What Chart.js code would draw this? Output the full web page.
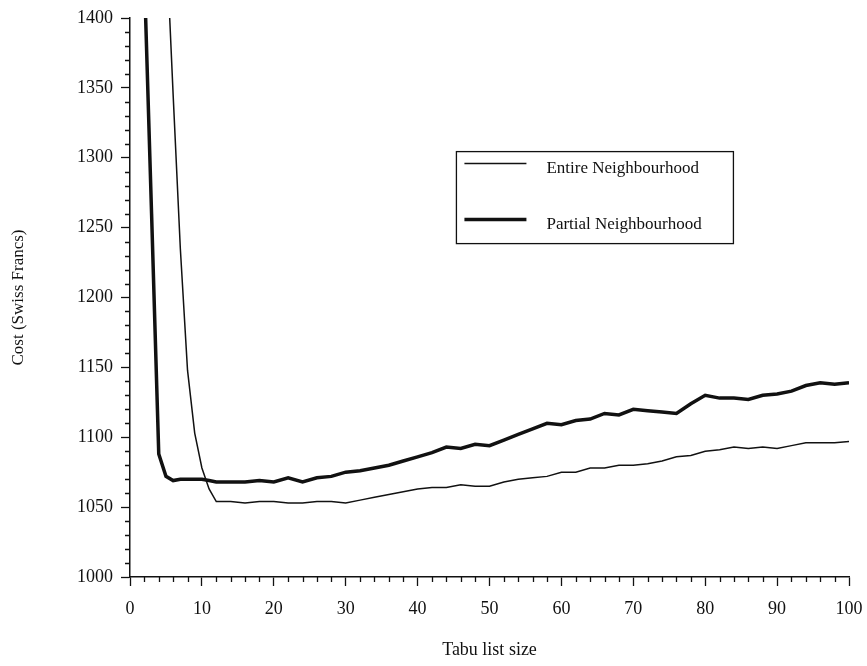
<!DOCTYPE html>
<html>
<head>
<meta charset="utf-8">
<script src="https://cdn.jsdelivr.net/npm/chart.js@4.4.1/dist/chart.umd.min.js"></script>
<style>
  html, body { margin: 0; padding: 0; background: #fff; }
  #wrap { width: 867px; height: 666px; }
</style>
</head>
<body>
<div id="wrap"><canvas id="myChart" width="867" height="666"></canvas></div>
<script>
// tabu list sizes (x) and the two cost series
const tabuSize = [2, 3, 4, 5, 6, 7, 8, 9, 10, 11, 12, 14, 16, 18, 20, 22, 24, 26, 28, 30,
  32, 34, 36, 38, 40, 42, 44, 46, 48, 50, 52, 54, 56, 58, 60, 62, 64, 66, 68, 70,
  72, 74, 76, 78, 80, 82, 84, 86, 88, 90, 92, 94, 96, 98, 100];

const entireCost = [null, null, null, 1460, 1345, 1235, 1148, 1103, 1078, 1063, 1054, 1054, 1053, 1054, 1054, 1053, 1053, 1054, 1054, 1053,
  1055, 1057, 1059, 1061, 1063, 1064, 1064, 1066, 1065, 1065, 1068, 1070, 1071, 1072, 1075, 1075, 1078, 1078, 1080, 1080,
  1081, 1083, 1086, 1087, 1090, 1091, 1093, 1092, 1093, 1092, 1094, 1096, 1096, 1096, 1097];

const partialCost = [1430, 1260, 1088, 1072, 1069, 1070, 1070, 1070, 1070, 1069, 1068, 1068, 1068, 1069, 1068, 1071, 1068, 1071, 1072, 1075,
  1076, 1078, 1080, 1083, 1086, 1089, 1093, 1092, 1095, 1094, 1098, 1102, 1106, 1110, 1109, 1112, 1113, 1117, 1116, 1120,
  1119, 1118, 1117, 1124, 1130, 1128, 1128, 1127, 1130, 1131, 1133, 1137, 1139, 1138, 1139];

const seriesNames = ['Entire Neighbourhood', 'Partial Neighbourhood'];
const xTicks = [0, 10, 20, 30, 40, 50, 60, 70, 80, 90, 100];
const yTicks = [1000, 1050, 1100, 1150, 1200, 1250, 1300, 1350, 1400];

const serif = '"Liberation Serif", "DejaVu Serif", serif';
const ink = '#111';

function toPoints(ys) {
  return tabuSize.map((x, i) => ({x: x, y: ys[i]}));
}

// small unlabeled ticks between the labelled ones
const minorTicks = {
  id: 'minorTicks',
  afterDraw(chart) {
    const ctx = chart.ctx;
    const xs = chart.scales.x, ys = chart.scales.y;
    const a = chart.chartArea;
    ctx.save();
    ctx.strokeStyle = ink;
    ctx.lineWidth = 1.3;
    ctx.beginPath();
    for (let v = 0; v <= 100; v += 2) {
      if (v % 10 === 0) continue;
      const px = Math.round(xs.getPixelForValue(v)) + 0.5;
      ctx.moveTo(px, a.bottom);
      ctx.lineTo(px, a.bottom + 5);
    }
    for (let v = 1000; v <= 1400; v += 10) {
      if (v % 50 === 0) continue;
      const py = Math.round(ys.getPixelForValue(v)) + 0.5;
      ctx.moveTo(a.left - 5, py);
      ctx.lineTo(a.left, py);
    }
    ctx.stroke();
    ctx.restore();
  }
};

// boxed legend sitting inside the plot
const boxLegend = {
  id: 'boxLegend',
  afterDraw(chart) {
    const ctx = chart.ctx;
    const a = chart.chartArea;
    const bx = a.left + (a.right - a.left) * 0.454;
    const by = a.top + (a.bottom - a.top) * 0.239;
    const bw = 277, bh = 92;
    ctx.save();
    ctx.strokeStyle = ink;
    ctx.lineWidth = 1.3;
    ctx.strokeRect(bx, by, bw, bh);
    ctx.font = '17px ' + serif;
    ctx.fillStyle = ink;
    ctx.textBaseline = 'middle';
    chart.data.datasets.forEach((ds, i) => {
      const ly = by + 12 + i * 56;
      ctx.lineWidth = ds.borderWidth;
      ctx.beginPath();
      ctx.moveTo(bx + 8, ly);
      ctx.lineTo(bx + 70, ly);
      ctx.stroke();
      ctx.fillText(ds.label, bx + 90, ly + 5);
    });
    ctx.restore();
  }
};

const ctx = document.getElementById('myChart').getContext('2d');
const myChart = new Chart(ctx, {
  type: 'line',
  data: {
    datasets: [{
      label: seriesNames[0],
      data: toPoints(entireCost),
      borderColor: ink,
      borderWidth: 1.5,
      pointRadius: 0,
      tension: 0
    }, {
      label: seriesNames[1],
      data: toPoints(partialCost),
      borderColor: ink,
      borderWidth: 3.5,
      pointRadius: 0,
      tension: 0
    }]
  },
  options: {
    responsive: false,
    animation: false,
    layout: { padding: { top: 18, right: 18, left: 0, bottom: 0 } },
    plugins: {
      legend: { display: false },
      tooltip: { enabled: false }
    },
    scales: {
      x: {
        type: 'linear',
        min: 0,
        max: 100,
        afterBuildTicks: (s) => { s.ticks = xTicks.map(v => ({value: v})); },
        afterFit: (s) => { s.height = 89; s.paddingRight = 0; s.paddingLeft = 0; },
        grid: { drawOnChartArea: false, tickLength: 9, tickColor: ink, tickWidth: 1.3 },
        border: { color: ink, width: 1.5 },
        ticks: { color: ink, padding: 12, font: { family: serif, size: 18 }, maxRotation: 0 },
        title: {
          display: true,
          text: 'Tabu list size',
          color: ink,
          font: { family: serif, size: 18 },
          padding: { top: 0, bottom: 5 }
        }
      },
      y: {
        min: 1000,
        max: 1400,
        afterBuildTicks: (s) => { s.ticks = yTicks.map(v => ({value: v})); },
        afterFit: (s) => { s.width = 130; s.paddingTop = 0; s.paddingBottom = 0; },
        grid: { drawOnChartArea: false, tickLength: 9, tickColor: ink, tickWidth: 1.3 },
        border: { color: ink, width: 1.5 },
        ticks: { color: ink, padding: 8, font: { family: serif, size: 18 }, callback: (v) => String(v) },
        title: {
          display: true,
          text: 'Cost (Swiss Francs)',
          color: ink,
          font: { family: serif, size: 17 },
          padding: { top: 8, bottom: 0 }
        }
      }
    }
  },
  plugins: [minorTicks, boxLegend]
});
</script>
</body>
</html>
